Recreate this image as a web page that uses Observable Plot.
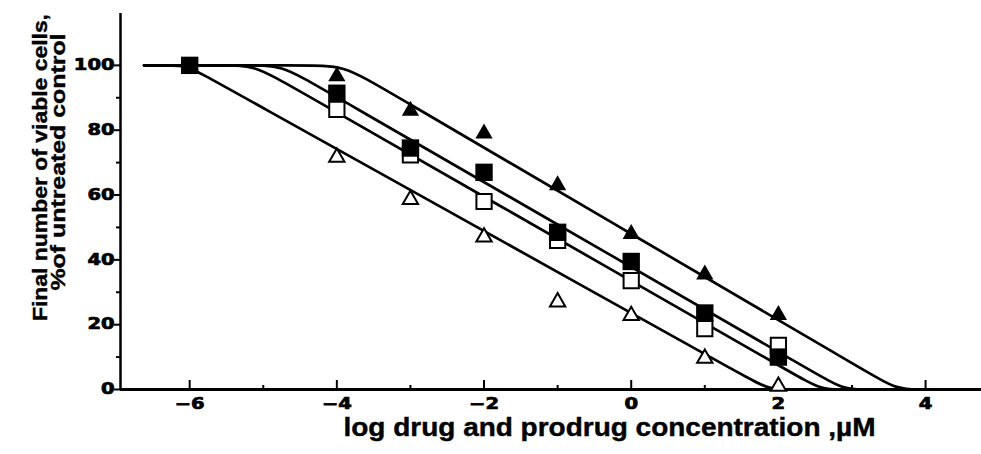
<!DOCTYPE html>
<html><head><meta charset="utf-8">
<script src="https://cdn.jsdelivr.net/npm/d3@7"></script>
<script src="https://cdn.jsdelivr.net/npm/@observablehq/plot@0.6"></script>
<style>
body{margin:0;background:#fff}
#chart{width:981px;height:454px;overflow:hidden}
</style>
</head><body><div id="chart"></div>
<script>
// ---- axis extents and ticks ----
const xDomain = [-6.94, 4.76];
const yDomain = [0, 116];
const xMajorTicks = [-6, -4, -2, 0, 2, 4];
const xMinorTicks = [-5, -3, -1, 1, 3];
const yMajorTicks = [0, 20, 40, 60, 80, 100];
const yMinorTicks = [10, 30, 50, 70, 90];

// ---- text ----
const xTitle = "log drug and prodrug concentration ,\u00b5M";
const yTitle1 = "Final number of viable cells,";
const yTitle2 = "%of untreated control";

// ---- measured points ----
const filledTriX = [-4, -3, -2, -1, 0, 1, 2];
const filledTriY = [96.6, 86, 79, 63, 48, 35.5, 23];
const filledSqX = [-6, -4, -3, -2, -1, 0, 1, 2];
const filledSqY = [100, 91.4, 74.5, 67, 48.5, 39.5, 23.6, 10];
const openSqX = [-4, -3, -2, -1, 0, 1, 2];
const openSqY = [86.4, 72.4, 58, 46, 33.6, 18.8, 13.6];
const openTriX = [-4, -3, -2, -1, 0, 1, 2];
const openTriY = [71.6, 58.6, 47, 27, 22.8, 9.6, 1];

// ---- fitted curves (control points) ----
const curveFilledTriX = [-6.62, -4.41, -3.91, -3.41, 0, 3.25, 3.61, 3.95];
const curveFilledTriY = [100, 100, 100, 93.4, 48, 4.8, 0, 0];
const curveFilledSqX = [-6.62, -5.2, -4.75, -4.3, 0, 2.55, 2.885, 3.2];
const curveFilledSqY = [100, 100, 100, 94.1, 37.8, 4.4, 0, 0];
const curveOpenSqX = [-6.62, -5.55, -5.115, -4.68, 0, 2.25, 2.577, 2.9];
const curveOpenSqY = [100, 100, 100, 94.3, 33.5, 4.25, 0, 0];
const curveOpenTriX = [-6.62, -6.3, -6.04, -5.75, 0, 1.55, 1.866, 2.2];
const curveOpenTriY = [100, 100, 100, 96.3, 23.6, 4.0, 0, 0];

const zip = (xs, ys, s) => xs.map((x, i) => ({x, y: ys[i], s}));
const curves = [
  ...zip(curveFilledTriX, curveFilledTriY, "A"),
  ...zip(curveFilledSqX, curveFilledSqY, "B"),
  ...zip(curveOpenSqX, curveOpenSqY, "C"),
  ...zip(curveOpenTriX, curveOpenTriY, "D")
];
const fTri = zip(filledTriX, filledTriY);
const fSq = zip(filledSqX, filledSqY);
const oSq = zip(openSqX, openSqY);
const oTri = zip(openTriX, openTriY);

const tickFont = {fontFamily: "DejaVu Sans", fontWeight: "bold", fontSize: 15};
const noText = () => "";
const titleFont = {fontFamily: "Liberation Sans", fontWeight: "bold", fill: "#000", textAnchor: "middle", lineAnchor: "middle"};

const svg = Plot.plot({
  width: 981, height: 454,
  marginLeft: 120, marginRight: 0, marginTop: 13, marginBottom: 65,
  x: {domain: xDomain},
  y: {domain: yDomain},
  style: {background: "#fff", color: "#000", fontFamily: "DejaVu Sans", overflow: "visible"},
  marks: [
    Plot.line(curves, {x: "x", y: "y", z: "s", curve: "basis", stroke: "#000", strokeWidth: 2.7}),
    Plot.ruleY([yDomain[0]], {stroke: "#000", strokeWidth: 3}),
    Plot.ruleX([xDomain[0]], {stroke: "#000", strokeWidth: 2.5}),
    Plot.axisX(xMajorTicks, {anchor: "top", frameAnchor: "bottom", tickSize: 10, strokeWidth: 2, tickFormat: noText, label: null}),
    Plot.axisX(xMinorTicks, {anchor: "top", frameAnchor: "bottom", tickSize: 5, strokeWidth: 2, tickFormat: noText, label: null}),
    Plot.axisX(xMajorTicks, {anchor: "bottom", tickSize: 0, tickPadding: 9, label: null, ...tickFont}),
    Plot.axisY(yMajorTicks, {anchor: "left", tickSize: 6, tickPadding: 0, strokeWidth: 2, label: null, ...tickFont}),
    Plot.axisY(yMinorTicks, {anchor: "left", tickSize: 4, strokeWidth: 2, tickFormat: noText, label: null}),
    Plot.dot(oSq, {x: "x", y: "y", symbol: "square", r: 8.6, fill: "#fff", stroke: "#000", strokeWidth: 2}),
    Plot.dot(oTri, {x: "x", y: "y", symbol: "triangle", r: 5.7, fill: "#fff", stroke: "#000", strokeWidth: 2}),
    Plot.dot(fSq, {x: "x", y: "y", symbol: "square", r: 9.8, fill: "#000", stroke: "none"}),
    Plot.dot(fTri, {x: "x", y: "y", symbol: "triangle", r: 6.4, fill: "#000", stroke: "none"}),
    Plot.text([xTitle], {frameAnchor: "bottom", dx: 58.5, dy: 38, fontSize: 25, ...titleFont}),
    Plot.text([yTitle1], {frameAnchor: "left", rotate: -90, dx: -80, dy: -34, fontSize: 21, ...titleFont}),
    Plot.text([yTitle2], {frameAnchor: "left", rotate: -90, dx: -62, dy: -39.5, fontSize: 21, ...titleFont})
  ]
});
document.getElementById("chart").appendChild(svg);

// widen and thicken the heavy tick numerals like the original print
svg.querySelectorAll("text").forEach(t => {
  const g = t.closest("g[aria-label]");
  const lab = g ? g.getAttribute("aria-label") : "";
  if (!/tick label/.test(lab) || !t.textContent) return;
  const L = t.getComputedTextLength();
  if (L > 0) { t.setAttribute("textLength", (L * 1.3).toFixed(1)); t.setAttribute("lengthAdjust", "spacingAndGlyphs"); }
  t.style.stroke = "#000"; t.style.strokeWidth = "0.7px";
});
// fit titles to the original widths
const fit = {[xTitle]: 532, [yTitle1]: 307, [yTitle2]: 257};
svg.querySelectorAll("text").forEach(t => {
  const L = fit[t.textContent];
  if (L) {
    t.setAttribute("textLength", L); t.setAttribute("lengthAdjust", "spacingAndGlyphs");
    t.style.stroke = "#000"; t.style.strokeWidth = "0.4px";
  }
});
</script>
</body></html>
